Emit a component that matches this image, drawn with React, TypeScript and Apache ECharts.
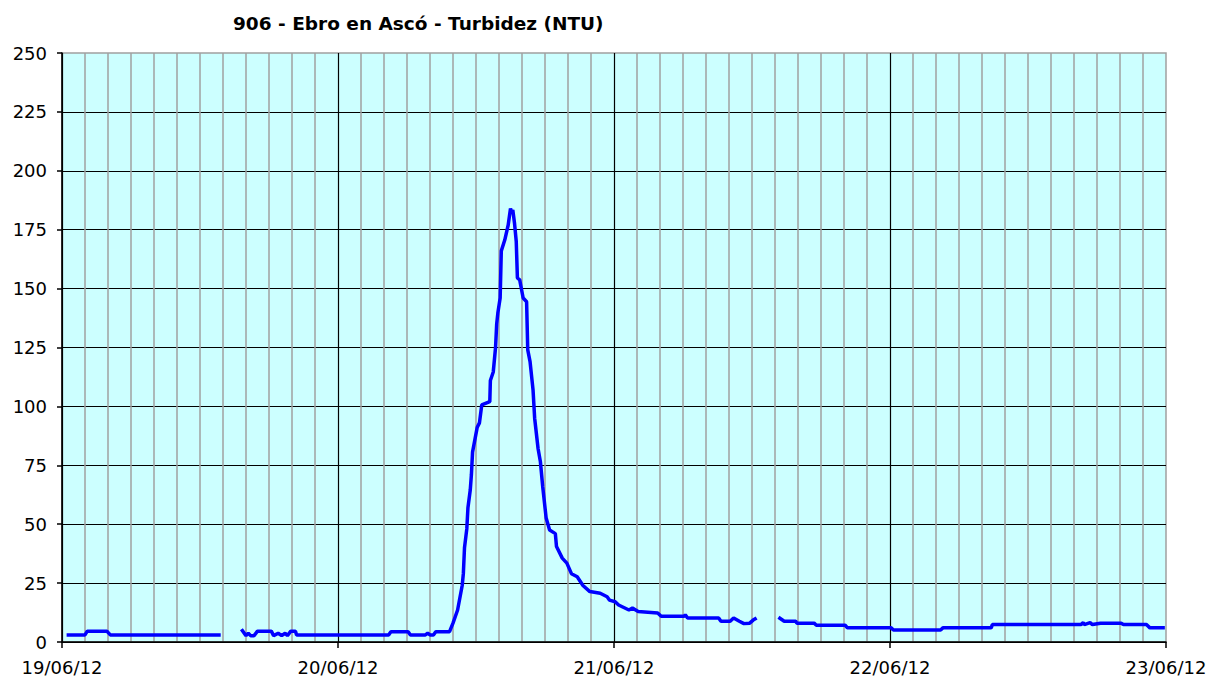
import React, { useEffect, useRef } from "react";
import * as echarts from "echarts";

// Hours elapsed since 19/06/12 00:00
const dayLabels = ["19/06/12", "20/06/12", "21/06/12", "22/06/12", "23/06/12"];
const yTicks = [0, 25, 50, 75, 100, 125, 150, 175, 200, 225, 250];

const seg1Hours = [0.4, 2.0, 2.2, 3.9, 4.2, 13.8];
const seg1Values = [3, 3, 4.6, 4.6, 3, 3];

const seg2Hours = [
  15.6, 16.0, 16.2, 16.4, 16.7, 17.0, 18.2, 18.4, 18.8, 19.1, 19.4, 19.6, 19.9, 20.3, 20.4,
  28.4, 28.6, 30.1, 30.3, 31.6, 31.8, 32.0, 32.3, 32.5, 33.7, 34.0, 34.4, 34.8, 34.9, 35.0,
  35.2, 35.3, 35.5, 35.6, 35.7, 36.1, 36.3, 36.5, 37.2, 37.25, 37.5, 37.7, 37.8, 37.9, 38.1,
  38.2, 38.5, 38.8, 39.0, 39.1, 39.2, 39.35, 39.5, 39.6, 39.8, 40.1, 40.4, 40.5, 40.7, 40.96,
  41.1, 41.4, 41.6, 41.8, 42.1, 42.4, 42.9, 43.0, 43.5, 43.9, 44.3, 44.8, 45.3, 45.9, 46.8, 47.4,
  47.6, 48.1, 48.4, 49.3, 49.6, 50.1, 51.8, 52.1, 54.1, 54.2, 54.4, 57.1, 57.3, 58.1, 58.4,
  58.9, 59.3, 59.8, 60.1, 60.4,
];
const seg2Values = [
  5.4, 2.7, 3.7, 2.7, 2.7, 4.6, 4.6, 2.7, 3.7, 2.7, 3.7, 2.7, 4.6, 4.6, 3,
  3, 4.4, 4.4, 3, 3, 3.7, 3, 3, 4.4, 4.4, 8, 13.6, 24, 29, 40,
  48, 57, 64.5, 71, 80.6, 91, 93, 100.6, 102, 111, 114.6, 125, 135, 139.6, 146,
  166, 170.6, 177, 184, 182, 183.4, 177.7, 170, 154.5, 153.7, 146, 144.4, 124, 119, 107,
  95, 82, 76.5, 66, 52.6, 47.5, 46, 40.5, 35.6, 33.5, 29, 27.7, 24, 21.4, 20.7, 19.2,
  17.8, 17.1, 15.7, 13.6, 14.4, 12.9, 12.3, 10.9, 10.9, 11.5, 10.2, 10.2, 8.8, 8.8, 10.2,
  8.8, 7.8, 8, 9.3, 10.2,
];

const seg3Hours = [
  62.3, 62.8, 63.8, 63.9, 65.4, 65.6, 68.1, 68.3, 72.1, 72.3, 76.4, 76.6, 80.8, 80.9,
  88.6, 88.8, 88.9, 89.4, 89.6, 90.3, 92.1, 92.3, 94.3, 94.6, 95.9,
];
const seg3Values = [
  10.5, 8.8, 8.8, 8.0, 8.0, 7.1, 7.1, 6, 6, 5.1, 5.1, 6, 6, 7.4,
  7.4, 8.2, 7.4, 8.2, 7.4, 8, 8, 7.4, 7.4, 6, 6,
];

const zip = (h: number[], v: number[]) => h.map((x, i) => [x, v[i]]);

export default function App() {
  const ref = useRef<HTMLDivElement>(null);
  useEffect(() => {
    if (!ref.current) return;
    const chart = echarts.init(ref.current, undefined, { renderer: "svg" });
    const lineSeries = (data: number[][]) => ({
      type: "line",
      data,
      showSymbol: false,
      symbol: "none",
      lineStyle: { color: "#0000ff", width: 3.5 },
      z: 5,
    });
    chart.setOption({
      animation: false,
      backgroundColor: "#ffffff",
      title: {
        text: "906 - Ebro en Ascó - Turbidez (NTU)",
        left: 233,
        top: 14,
        padding: 0,
        textStyle: {
          fontFamily: "DejaVu Sans",
          fontWeight: "bold",
          fontSize: 18.5,
          color: "#000",
        },
      },
      grid: {
        left: 62,
        right: 47,
        top: 53,
        bottom: 35,
        show: true,
        backgroundColor: "#ccffff",
        borderColor: "#a0a0a0",
        borderWidth: 1.5,
      },
      xAxis: {
        type: "value",
        min: 0,
        max: 96,
        interval: 24,
        axisLine: { show: true, lineStyle: { color: "#000", width: 1.5 } },
        axisTick: { show: true, length: 6, lineStyle: { color: "#000", width: 1.5 } },
        axisLabel: {
          margin: 16,
          fontFamily: "DejaVu Sans",
          fontSize: 18,
          color: "#000",
          showMaxLabel: true,
          showMinLabel: true,
          formatter: (v: number) => dayLabels[Math.round(v / 24)] ?? "",
        },
        splitLine: { show: true, showMaxLine: false, lineStyle: { color: "#000", width: 1.2 } },
        minorTick: { show: false, splitNumber: 12 },
        minorSplitLine: { show: true, lineStyle: { color: "#a0a0a0", width: 1.5 } },
      },
      yAxis: {
        type: "value",
        min: yTicks[0],
        max: yTicks[yTicks.length - 1],
        interval: 25,
        axisLine: { show: true, lineStyle: { color: "#000", width: 1.5 } },
        axisTick: { show: true, length: 5, lineStyle: { color: "#000", width: 1.5 } },
        axisLabel: {
          margin: 15,
          fontFamily: "DejaVu Sans",
          fontSize: 18,
          color: "#000",
        },
        splitLine: { show: true, showMaxLine: false, lineStyle: { color: "#000", width: 1.2 } },
      },
      series: [
        lineSeries(zip(seg1Hours, seg1Values)),
        lineSeries(zip(seg2Hours, seg2Values)),
        lineSeries(zip(seg3Hours, seg3Values)),
      ],
    });
    return () => chart.dispose();
  }, []);
  return (
    <div
      ref={ref}
      style={{ position: "fixed", left: 0, top: 0, width: 1213, height: 677, background: "#fff" }}
    />
  );
}
